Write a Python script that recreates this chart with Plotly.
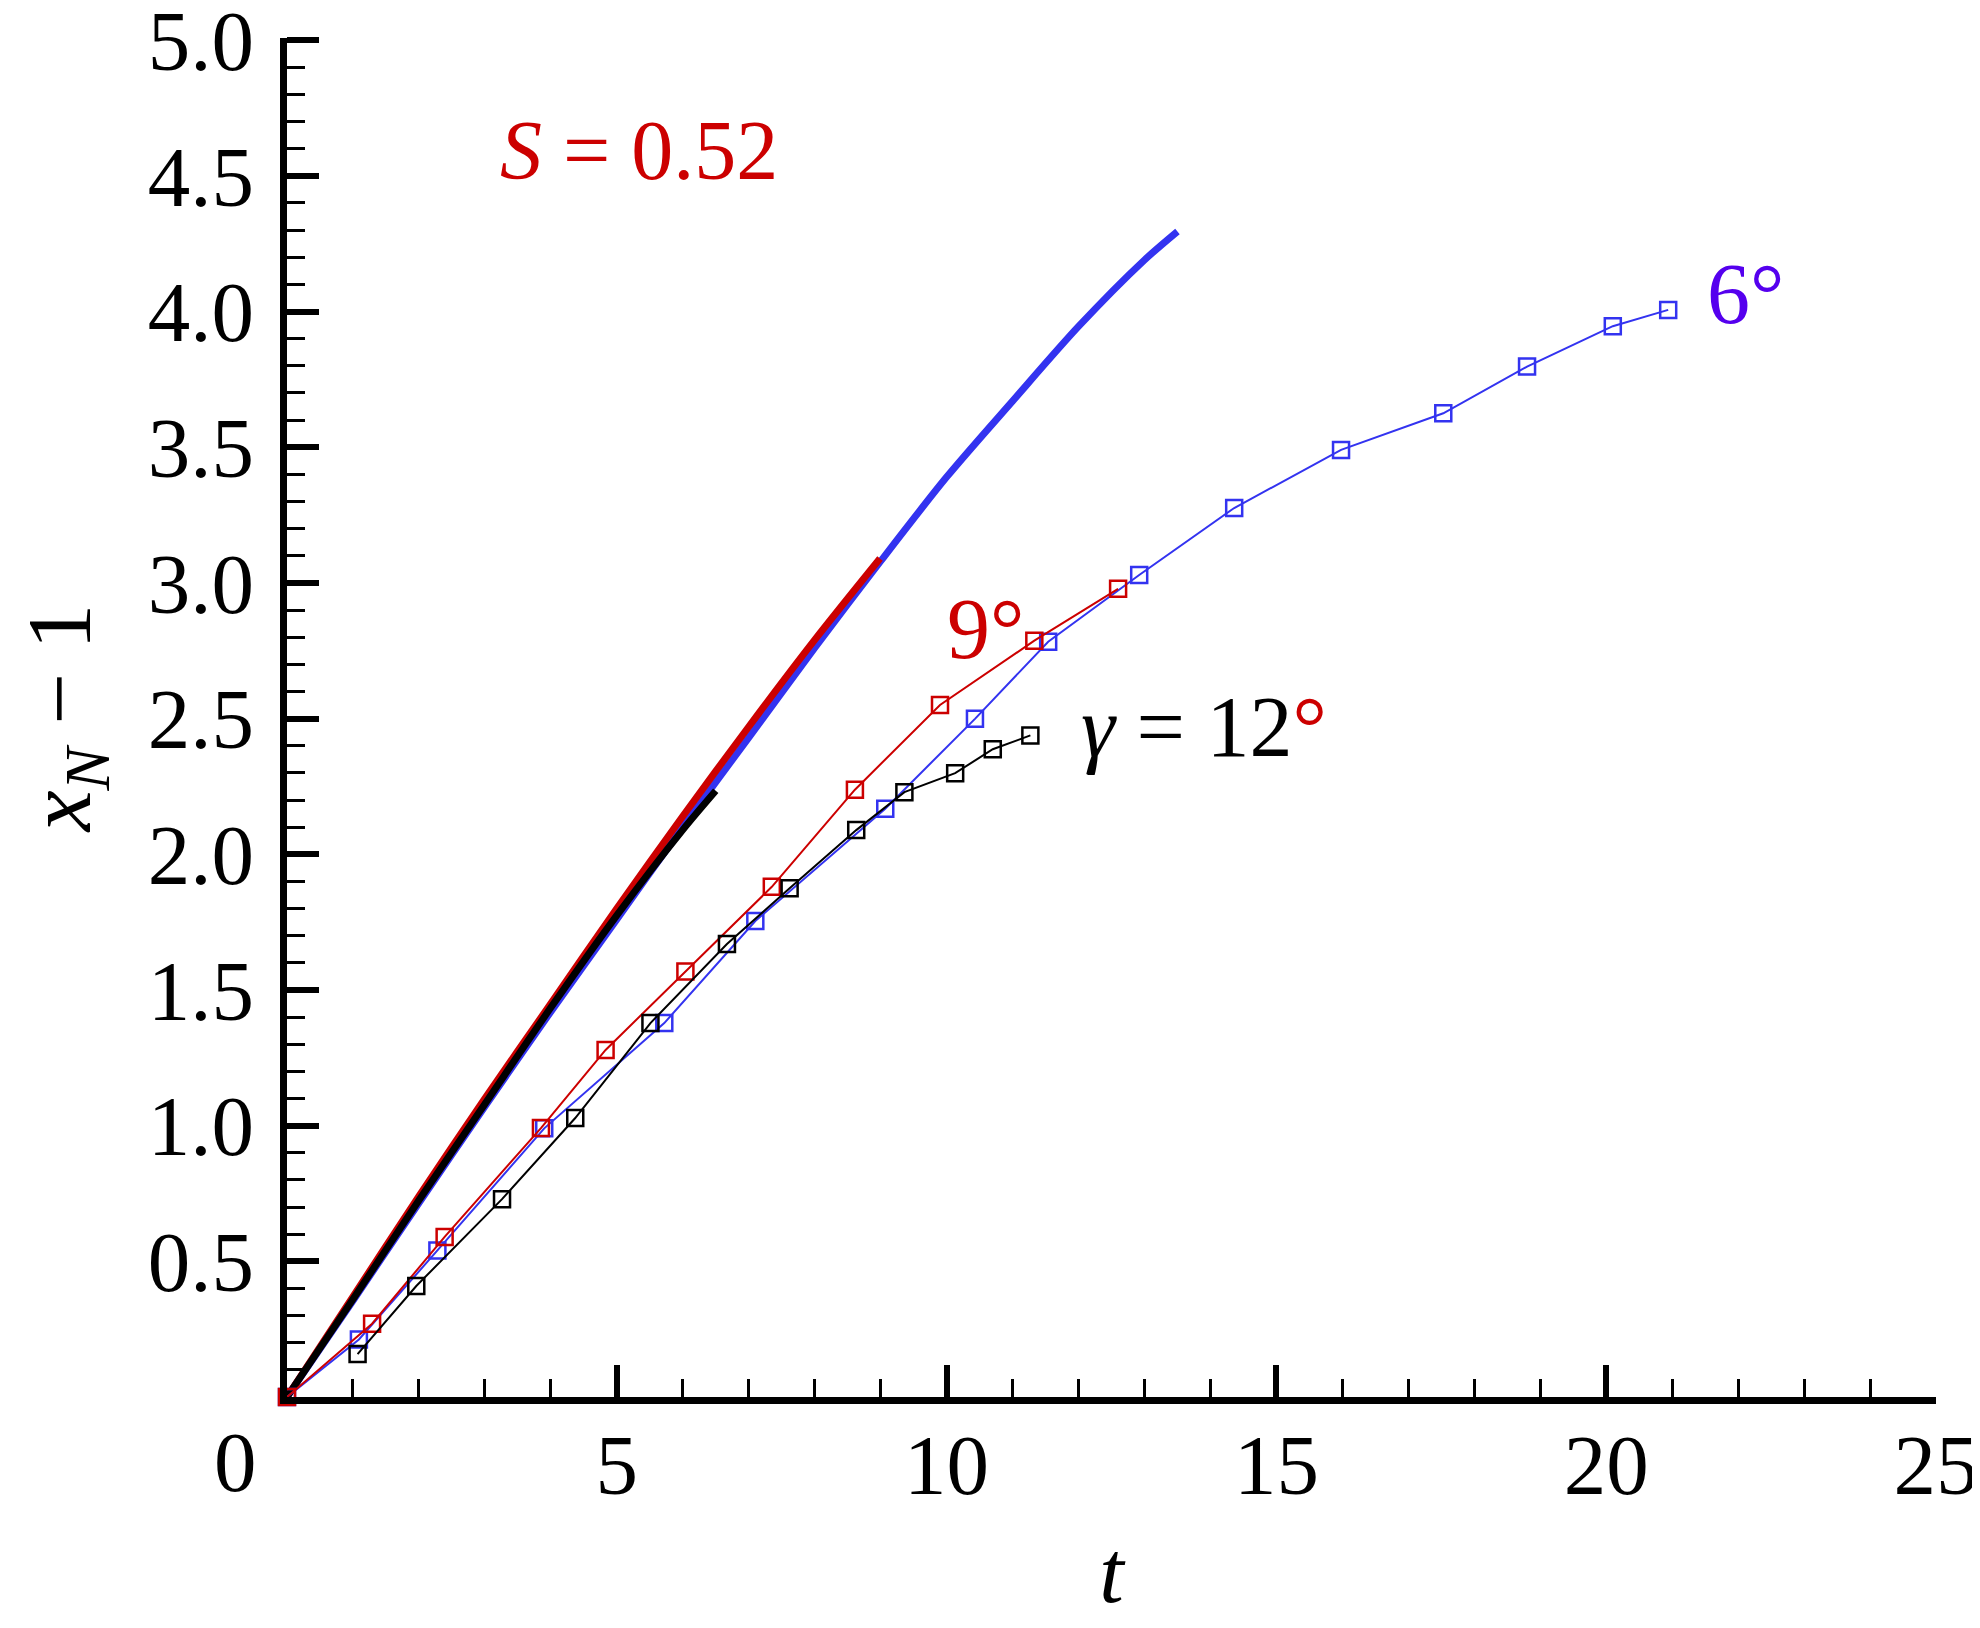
import plotly.graph_objects as go

FONT = "Liberation Serif, Times New Roman, Times, serif"
RED = "#cc0000"
BLUE = "#3333f0"
PURPLE = "#5500ee"

# thick curves, S = 0.52
t_thick_6 = [0, 1, 2, 3, 4, 5, 6, 7, 8, 9, 10, 11, 12, 13, 13.5]
x_thick_6 = [0, 0.355, 0.715, 1.07, 1.42, 1.76, 2.10, 2.43, 2.76, 3.08, 3.39, 3.67, 3.945, 4.19, 4.295]
t_thick_9 = [0, 1, 2, 3, 4, 5, 6, 7, 8, 8.99]
x_thick_9 = [0, 0.37, 0.74, 1.10, 1.45, 1.80, 2.14, 2.47, 2.79, 3.09]
t_thick_12 = [0, 1, 2, 3, 4, 5, 6, 6.5]
x_thick_12 = [0, 0.36, 0.725, 1.08, 1.435, 1.775, 2.09, 2.234]

# measured points
t_6 = [0, 1.09, 2.28, 3.90, 5.72, 7.10, 9.07, 10.43, 11.54, 12.92, 14.36, 15.98, 17.53, 18.80, 20.10, 20.94]
x_6 = [0, 0.212, 0.54, 0.99, 1.378, 1.754, 2.168, 2.499, 2.783, 3.029, 3.276, 3.490, 3.625, 3.797, 3.946, 4.006]
t_9 = [0, 1.29, 2.39, 3.85, 4.83, 6.04, 7.35, 8.61, 9.90, 11.33, 12.60]
x_9 = [0, 0.27, 0.59, 0.991, 1.279, 1.568, 1.88, 2.238, 2.55, 2.787, 2.978]
t_12 = [1.07, 1.96, 3.26, 4.37, 5.51, 6.67, 7.62, 8.63, 9.36, 10.13, 10.70, 11.27]
x_12 = [0.158, 0.409, 0.729, 1.028, 1.378, 1.669, 1.875, 2.089, 2.229, 2.299, 2.387, 2.438]

fig = go.Figure()

for t, x, c in [(t_thick_6, x_thick_6, BLUE), (t_thick_9, x_thick_9, RED), (t_thick_12, x_thick_12, "black")]:
    fig.add_trace(go.Scatter(x=t, y=x, mode="lines", line=dict(color=c, width=7, shape="spline", smoothing=0.8),
                             cliponaxis=False))

for t, x, c in [(t_6, x_6, BLUE), (t_9, x_9, RED), (t_12, x_12, "black")]:
    fig.add_trace(go.Scatter(x=t, y=x, mode="lines+markers", line=dict(color=c, width=2),
                             marker=dict(symbol="square-open", size=16, color=c, line=dict(width=2.5, color=c)),
                             cliponaxis=False))

tick_font = dict(family=FONT, size=85, color="black")

fig.update_xaxes(range=[0, 25], tickmode="array", tickvals=[5, 10, 15, 20, 25], automargin=False,
                 showline=True, linewidth=7, linecolor="black", showgrid=False, zeroline=False,
                 ticks="inside", ticklen=32, tickwidth=6, tickcolor="black",
                 minor=dict(tickmode="linear", tick0=0, dtick=1, ticks="inside", ticklen=18, tickwidth=2.5, tickcolor="black"),
                 tickfont=tick_font, ticklabelstandoff=-12, ticklabeloverflow="allow",
                 title=dict(text="<i>t</i>", font=dict(family=FONT, size=88, color="black"), standoff=32))
fig.update_yaxes(range=[0, 5.008], tickmode="array", tickvals=[0.5, 1, 1.5, 2, 2.5, 3, 3.5, 4, 4.5, 5], tickformat=".1f",
                 automargin=False,
                 showline=True, linewidth=7, linecolor="black", showgrid=False, zeroline=False,
                 ticks="inside", ticklen=32, tickwidth=6, tickcolor="black",
                 minor=dict(tickmode="linear", tick0=0, dtick=0.1, ticks="inside", ticklen=18, tickwidth=2.5, tickcolor="black"),
                 tickfont=tick_font, ticklabelstandoff=9, ticklabeloverflow="allow",
                 title=dict(text="<i>x</i><sub><i>N</i></sub> − 1", font=dict(family=FONT, size=92, color="black"), standoff=36))

# origin label sits left of the axis corner
fig.add_annotation(x=0, y=0, xref="x", yref="y", text="0", showarrow=False, xanchor="center", yanchor="top",
                   xshift=-52, yshift=-16, font=tick_font)

fig.add_annotation(x=3.20, y=4.593, text="<i>S</i> = 0.52", showarrow=False, xanchor="left", yanchor="middle",
                   font=dict(family=FONT, size=84, color=RED))
fig.add_annotation(x=21.5, y=4.065, text="6°", showarrow=False, xanchor="left", yanchor="middle",
                   font=dict(family=FONT, size=86, color=PURPLE))
fig.add_annotation(x=9.97, y=2.83, text="9°", showarrow=False, xanchor="left", yanchor="middle",
                   font=dict(family=FONT, size=86, color=RED))
fig.add_annotation(x=12.0, y=2.47, text="<i>γ</i> = 12<span style='color:#cc0000'>°</span>", showarrow=False,
                   xanchor="left", yanchor="middle", font=dict(family=FONT, size=86, color="black"))

fig.update_layout(width=1980, height=1628, showlegend=False,
                  margin=dict(l=279, r=52, t=30, b=239),
                  plot_bgcolor="white", paper_bgcolor="white")

fig.write_html("out.html")
